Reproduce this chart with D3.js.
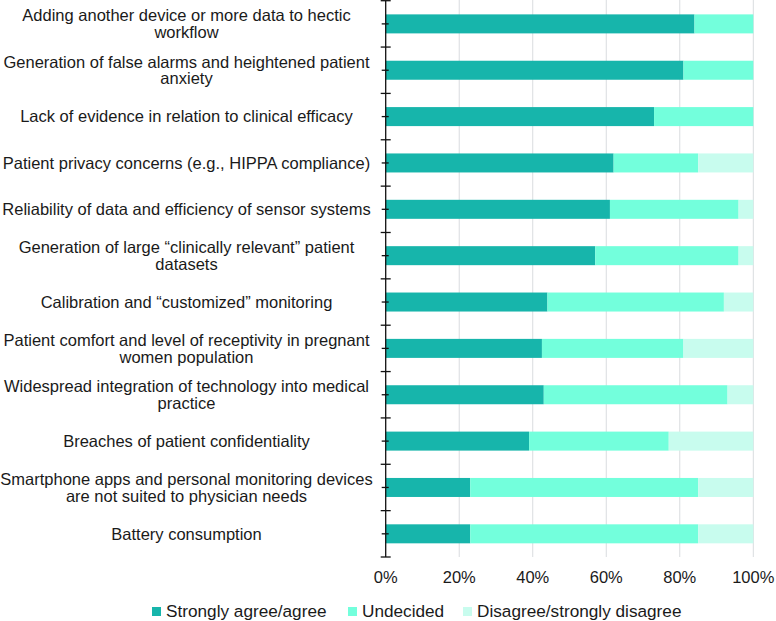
<!DOCTYPE html>
<html><head><meta charset="utf-8">
<script src="https://cdn.jsdelivr.net/npm/d3@7"></script>
<style>
html,body{margin:0;padding:0;background:#fff;}
svg{display:block;font-family:"Liberation Sans",Arial,Helvetica,sans-serif;}
</style></head>
<body><svg id="c" width="776" height="621"></svg>
<script>
const categories = [
  ["Adding another device or more data to hectic","workflow"],
  ["Generation of false alarms and heightened patient","anxiety"],
  ["Lack of evidence in relation to clinical efficacy"],
  ["Patient privacy concerns (e.g., HIPPA compliance)"],
  ["Reliability of data and efficiency of sensor systems"],
  ["Generation of large \u201cclinically relevant\u201d patient","datasets"],
  ["Calibration and \u201ccustomized\u201d monitoring"],
  ["Patient comfort and level of receptivity in pregnant","women population"],
  ["Widespread integration of technology into medical","practice"],
  ["Breaches of patient confidentiality"],
  ["Smartphone apps and personal monitoring devices","are not suited to physician needs"],
  ["Battery consumption"]
];
const agree     = [84, 81, 73, 62, 61, 57, 44, 42.5, 43, 39, 23, 23];
const undecided = [16, 19, 27, 23, 35, 39, 48, 38.5, 50, 38, 62, 62];
const disagree  = [0, 0, 0, 15, 4, 4, 8, 19, 7, 23, 15, 15];
const seriesNames = ["Strongly agree/agree","Undecided","Disagree/strongly disagree"];
const colors = ["#17b5ab","#73ffdc","#c8fcee"];
const xTicks = [0,20,40,60,80,100];

const svg = d3.select("#c");
const x = d3.scaleLinear().domain([0,100]).range([385.7,753.3]);
const idx = d3.range(categories.length);
const y = d3.scaleBand().domain(idx).range([0.7,557]).padding(0);
const barH = y.bandwidth()*0.41;

// gridlines
svg.append("g").selectAll("line").data(xTicks.filter(d=>d>0)).join("line")
  .attr("x1",d=>x(d)).attr("x2",d=>x(d)).attr("y1",0).attr("y2",557)
  .attr("stroke","#d9dcdf").attr("stroke-width",1);

// stacked bars
const rows = idx.map(i=>({i, a:agree[i], u:undecided[i], d:disagree[i]}));
const stack = d3.stack().keys(["a","u","d"])(rows);
svg.append("g").selectAll("g").data(stack).join("g")
  .attr("fill",(s,k)=>colors[k])
  .selectAll("rect").data(s=>s).join("rect")
  .attr("x",d=>x(d[0])).attr("width",d=>Math.max(0,x(d[1])-x(d[0])))
  .attr("y",d=>y(d.data.i)+(y.bandwidth()-barH)/2).attr("height",barH);

// y axis line and ticks
const ax = svg.append("g").attr("stroke","#111").attr("stroke-width",1.3);
ax.append("line").attr("x1",x(0)).attr("x2",x(0)).attr("y1",0.7).attr("y2",557);
const bounds = idx.map(i=>y(i)).concat([557]);
ax.selectAll("line.b").data(bounds).join("line").attr("class","b")
  .attr("x1",x(0)-5).attr("x2",x(0)+5).attr("y1",d=>d).attr("y2",d=>d);
ax.selectAll("line.m").data(idx).join("line").attr("class","m")
  .attr("x1",x(0)-4).attr("x2",x(0)+3).attr("y1",d=>y(d)+y.bandwidth()/2).attr("y2",d=>y(d)+y.bandwidth()/2);

// category labels
const lh = 16.8;
const lbl = svg.append("g").attr("font-size",16.5).attr("fill","#1a1a1a").attr("text-anchor","middle");
idx.forEach(i=>{
  const lines = categories[i];
  const cy = y(i)+y.bandwidth()/2;
  const t = lbl.append("text").attr("x",186.5);
  lines.forEach((ln,j)=>{
    t.append("tspan").attr("x",186.5)
     .attr("y",cy + 5.8 + (j-(lines.length-1)/2)*lh).text(ln);
  });
});

// x tick labels
svg.append("g").attr("font-size",16.5).attr("fill","#1a1a1a").attr("text-anchor","middle")
  .selectAll("text").data(xTicks).join("text")
  .attr("x",d=>x(d)).attr("y",582.7).text(d=>d+"%");

// legend
const legX = [152,348,463];
const leg = svg.append("g").attr("font-size",17.2).attr("fill","#1a1a1a");
seriesNames.forEach((n,k)=>{
  leg.append("rect").attr("x",legX[k]).attr("y",607).attr("width",9).attr("height",9).attr("fill",colors[k]);
  leg.append("text").attr("x",legX[k]+14).attr("y",617).text(n);
});
</script></body></html>
